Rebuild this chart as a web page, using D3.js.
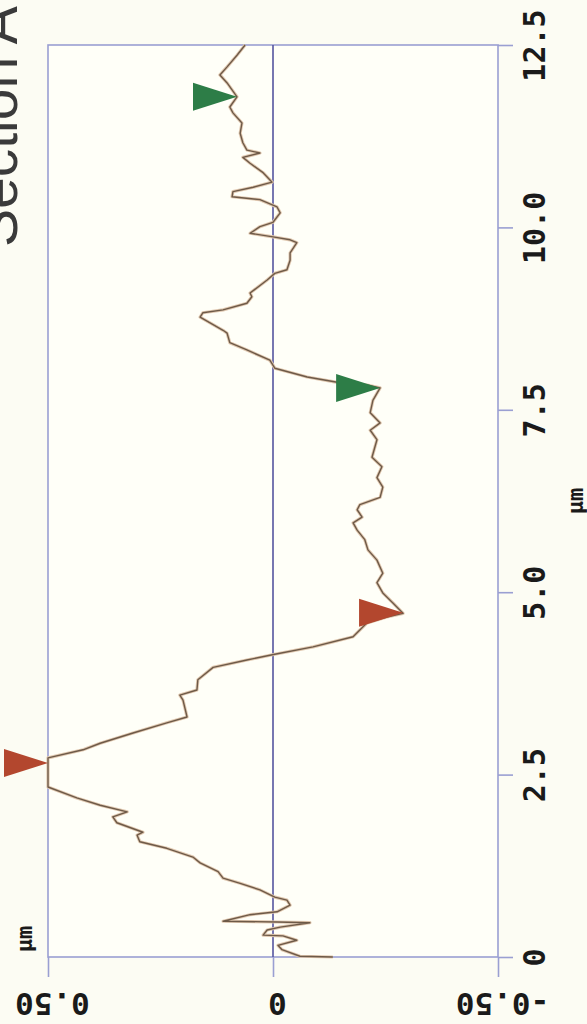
<!DOCTYPE html>
<html>
<head>
<meta charset="utf-8">
<script src="https://cdn.jsdelivr.net/npm/d3@7/dist/d3.min.js"></script>
<style>
  html, body { margin: 0; padding: 0; background: #fcfcf3; }
  svg { display: block; }
</style>
</head>
<body>
<svg id="chart" width="587" height="1024"></svg>
<script>
// Section profile: height (µm) along the scan line (µm)
const distance = [
  0.00, 0.01, 0.10, 0.16, 0.23, 0.29, 0.30, 0.37, 0.41, 0.47,
  0.48, 0.49, 0.58, 0.62, 0.71, 0.78, 0.82, 0.92, 1.01, 1.08,
  1.17, 1.29, 1.37, 1.49, 1.58, 1.67, 1.71, 1.84, 1.92, 1.99,
  2.08, 2.18, 2.33, 2.73, 2.84, 2.93, 3.07, 3.21, 3.29, 3.52,
  3.59, 3.66, 3.80, 3.97, 4.07, 4.15, 4.25, 4.39, 4.58, 4.66,
  4.71, 4.85, 4.99, 5.13, 5.26, 5.44, 5.58, 5.72, 5.85, 5.95,
  6.03, 6.13, 6.20, 6.30, 6.44, 6.57, 6.72, 6.85, 7.09, 7.22,
  7.32, 7.46, 7.63, 7.80, 7.84, 7.87, 7.95, 8.07, 8.18, 8.32,
  8.42, 8.55, 8.59, 8.77, 8.83, 8.87, 8.96, 9.05, 9.10, 9.28,
  9.37, 9.42, 9.55, 9.65, 9.79, 9.83, 9.87, 9.92, 10.01, 10.07,
  10.20, 10.28, 10.38, 10.42, 10.49, 10.55, 10.62, 10.75, 10.88, 10.96,
  11.02, 11.06, 11.16, 11.29, 11.43, 11.57, 11.65, 11.79, 11.98, 12.09,
  12.20, 12.36, 12.50
];
const height = [
  -0.133, -0.060, -0.020, -0.011, -0.053, -0.022, 0.022, 0.013, -0.016, -0.082,
  -0.009, 0.111, 0.051, -0.009, -0.038, -0.031, -0.004, 0.029, 0.073, 0.111,
  0.122, 0.162, 0.178, 0.236, 0.296, 0.302, 0.289, 0.347, 0.356, 0.324,
  0.384, 0.436, 0.500, 0.500, 0.422, 0.384, 0.311, 0.236, 0.191, 0.200,
  0.207, 0.169, 0.167, 0.133, 0.058, -0.004, -0.089, -0.178, -0.209, -0.253,
  -0.289, -0.267, -0.244, -0.231, -0.244, -0.231, -0.211, -0.204, -0.187, -0.178,
  -0.198, -0.187, -0.193, -0.238, -0.244, -0.231, -0.242, -0.220, -0.231, -0.216,
  -0.238, -0.216, -0.222, -0.238, -0.209, -0.149, -0.076, -0.004, 0.007, 0.058,
  0.096, 0.102, 0.111, 0.162, 0.156, 0.111, 0.058, 0.047, 0.051, 0.013,
  -0.004, -0.031, -0.038, -0.038, -0.053, -0.038, 0.000, 0.051, 0.029, 0.000,
  -0.016, -0.009, 0.029, 0.091, 0.089, 0.044, 0.002, 0.022, 0.051, 0.067,
  0.029, 0.058, 0.067, 0.073, 0.069, 0.089, 0.096, 0.080, 0.102, 0.118,
  0.102, 0.080, 0.062
];

// Cursor markers (position along the line, height, colour)
const markerDistance = [2.66, 4.72, 7.80, 11.79];
const markerHeight   = [0.500, -0.289, -0.238, 0.080];
const markerColor    = ["#b3472e", "#b3472e", "#2d7d47", "#2d7d47"];

// Axis ticks
const distanceTicks = [0, 2.5, 5.0, 7.5, 10.0, 12.5];
const distanceTickLabels = ["0", "2.5", "5.0", "7.5", "10.0", "12.5"];
const heightTicks = [0.5, 0, -0.5];
const heightTickLabels = ["0.50", "0", "-0.50"];

const title = "Section A";
const unitLabel = "\u03bcm";

const svg = d3.select("#chart");
svg.append("rect").attr("width", 587).attr("height", 1024).attr("fill", "#fcfcf3");

// The plot is laid out sideways: distance runs up the page, height runs right-to-left.
const yDist = d3.scaleLinear().domain([0, 12.5]).range([957, 45]);
const xHgt = d3.scaleLinear().domain([0.5, -0.5]).range([48, 498]);

const frameColor = "#9a9fd2";
const zeroColor = "#55559f";
const labelFont = "'DejaVu Sans Mono', 'Liberation Mono', monospace";

// Plot frame
svg.append("rect")
  .attr("x", xHgt(0.5)).attr("y", yDist(12.5))
  .attr("width", xHgt(-0.5) - xHgt(0.5))
  .attr("height", yDist(0) - yDist(12.5))
  .attr("fill", "#fffff8")
  .attr("stroke", frameColor).attr("stroke-width", 1.6);

// Zero height reference line
svg.append("line")
  .attr("x1", xHgt(0)).attr("x2", xHgt(0))
  .attr("y1", yDist(12.5)).attr("y2", yDist(0))
  .attr("stroke", zeroColor).attr("stroke-width", 1.6);

// Distance axis on the right
const distAxis = d3.axisRight(yDist)
  .tickValues(distanceTicks)
  .tickFormat((d, i) => distanceTickLabels[i])
  .tickSize(15)
  .tickPadding(0);
const gDist = svg.append("g")
  .attr("transform", `translate(${xHgt(-0.5)},0)`)
  .call(distAxis);
gDist.select(".domain").remove();
gDist.selectAll(".tick line").attr("stroke", frameColor).attr("stroke-width", 1.6);
gDist.selectAll(".tick text")
  .attr("x", 0).attr("dy", null)
  .attr("transform", "translate(36,0) rotate(-90)")
  .attr("text-anchor", "middle")
  .attr("dominant-baseline", "central")
  .attr("fill", "#1a1a1a")
  .style("font-family", labelFont)
  .style("font-weight", "bold")
  .style("font-size", "30px");

// Height axis at the bottom
const hgtAxis = d3.axisBottom(xHgt)
  .tickValues(heightTicks)
  .tickFormat((d, i) => heightTickLabels[i])
  .tickSize(20)
  .tickPadding(0);
const gHgt = svg.append("g")
  .attr("transform", `translate(0,${yDist(0)})`)
  .call(hgtAxis);
gHgt.select(".domain").remove();
gHgt.selectAll(".tick line").attr("stroke", frameColor).attr("stroke-width", 1.6);
gHgt.selectAll(".tick text")
  .attr("y", 0).attr("dy", null)
  .attr("transform", "translate(4,47) rotate(180)")
  .attr("text-anchor", "middle")
  .attr("dominant-baseline", "central")
  .attr("fill", "#1a1a1a")
  .style("font-family", labelFont)
  .style("font-weight", "bold")
  .style("font-size", "31px");

// Unit labels
svg.append("text")
  .attr("transform", `translate(575,${yDist(6.25)}) rotate(-90)`)
  .attr("text-anchor", "middle").attr("dominant-baseline", "central")
  .attr("fill", "#1a1a1a")
  .style("font-family", labelFont).style("font-weight", "bold").style("font-size", "22px")
  .text(unitLabel);
svg.append("text")
  .attr("transform", `translate(24,${yDist(0) - 18}) rotate(-90)`)
  .attr("text-anchor", "middle").attr("dominant-baseline", "central")
  .attr("fill", "#1a1a1a")
  .style("font-family", labelFont).style("font-weight", "bold").style("font-size", "22px")
  .text(unitLabel);

// Title, running up the left edge
svg.append("text")
  .attr("transform", "translate(17,247) rotate(-90)")
  .attr("fill", "#3a3a3a")
  .style("font-family", "'Liberation Sans', Arial, sans-serif")
  .style("font-size", "57px")
  .text(title);

// Profile trace
const profile = distance.map((d, i) => ({ d, h: height[i] }));
const line = d3.line().x(p => xHgt(p.h)).y(p => yDist(p.d));
svg.append("path")
  .datum(profile)
  .attr("d", line)
  .attr("fill", "none")
  .attr("stroke", "#e0c8b0").attr("stroke-width", 3.2)
  .attr("stroke-linejoin", "round");
svg.append("path")
  .datum(profile)
  .attr("d", line)
  .attr("fill", "none")
  .attr("stroke", "#6e5a48").attr("stroke-width", 1.4)
  .attr("stroke-linejoin", "round");

// Cursor triangles pointing at the trace
const markers = markerDistance.map((d, i) => ({ d, h: markerHeight[i], c: markerColor[i] }));
svg.selectAll("path.marker")
  .data(markers)
  .join("path")
  .attr("class", "marker")
  .attr("d", m => {
    const tx = xHgt(m.h), ty = yDist(m.d);
    return `M${tx},${ty} L${tx - 44},${ty - 14} L${tx - 44},${ty + 14} Z`;
  })
  .attr("fill", m => m.c);
</script>
</body>
</html>
